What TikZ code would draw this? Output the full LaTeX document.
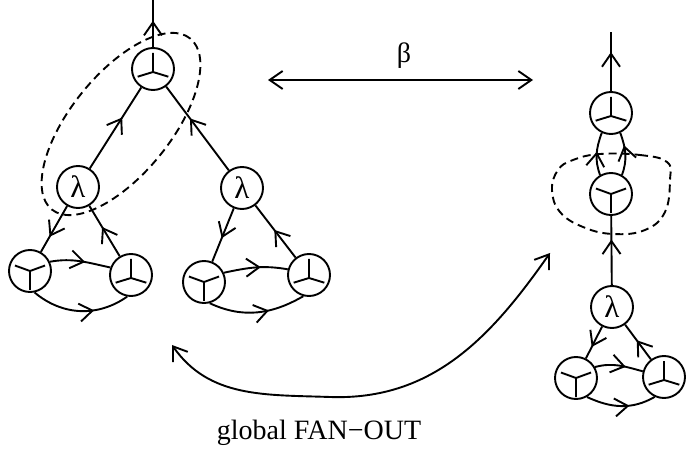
\documentclass[tikz,border=0pt]{standalone}
\usepackage{fontspec}
\setmainfont{Liberation Serif}
\usetikzlibrary{arrows.meta,decorations.markings}
\tikzset{
  >={Straight Barb[length=13pt,width=18pt]},
  nd/.style={circle, draw, line width=1.9pt, minimum size=42pt, inner sep=0pt, font=\fontsize{31}{31}\selectfont},
  fin/.style={nd, path picture={
    \draw[line width=1.9pt] ([yshift=-3pt]path picture bounding box.center) -- ++(90:19pt)
      ([yshift=-3pt]path picture bounding box.center) -- ++(197:16pt)
      ([yshift=-3pt]path picture bounding box.center) -- ++(343:16pt);}},
  fout/.style={nd, path picture={
    \draw[line width=1.9pt] (path picture bounding box.center) -- ++(160:16pt)
      (path picture bounding box.center) -- ++(20:16pt)
      (path picture bounding box.center) -- ++(270:19pt);}},
  marr/.style={postaction={decorate}, decoration={markings, mark=at position #1 with {\arrow{>}}}},
  dsh/.style={dash pattern=on 8pt off 5pt},
  lbl/.style={font=\fontsize{28}{28}\selectfont, inner sep=0pt}
}
\begin{document}
\begin{tikzpicture}[x=1pt,y=1pt,line width=1.9pt]
\useasboundingbox (0,0) rectangle (686,-457);
% left graph
\node[fin] (T1) at (153,-69) {};
\node[nd] (L1) at (78,-187) {λ};
\node[nd] (L2) at (242,-188) {λ};
\node[fout] (A1) at (30,-271) {};
\node[fin] (A2) at (131,-275) {};
\node[fout] (B1) at (204,-282) {};
\node[fin] (B2) at (309,-275) {};
\coordinate (Ttop) at (153,0);
\draw[marr=0.56] (T1) -- (Ttop);
\draw[marr=0.63] (L1) -- (T1);
\draw[marr=0.62] (L2) -- (T1);
\draw[marr=0.67] (L1) -- (A1);
\draw[marr=0.58] (A2) -- (L1);
\draw[marr=0.58] (A1.25) to[out=10,in=168] (A2.160);
\draw[marr=0.64] (A1.-78) to[out=-40,in=-145] (A2.-100);
\draw[marr=0.56] (L2) -- (B1);
\draw[marr=0.53] (B2) -- (L2);
\draw[marr=0.58] (B1.25) to[out=12,in=170] (B2.165);
\draw[marr=0.62] (B1.-75) to[out=-25,in=-150] (B2.-105);
\draw[dsh, rotate around={51:(121,-124)}] (121,-124) ellipse [x radius=110, y radius=50];
% right graph
\node[fin] (R1) at (611,-113) {};
\node[fout] (R2) at (611,-194) {};
\node[nd] (R3) at (612,-307) {λ};
\node[fout] (R4) at (576,-378) {};
\node[fin] (R5) at (664,-377) {};
\coordinate (Rtop) at (611,-32);
\draw[marr=0.66] (R1) -- (Rtop);
\draw[marr=0.55] (R2.120) to[out=110,in=-110] (R1.-115);
\draw[marr=0.7] (R2.60) to[out=70,in=-70] (R1.-65);
\draw[marr=0.66] (R3) -- (R2);
\draw[marr=0.64] (R3) -- (R4);
\draw[marr=0.55] (R5) -- (R3);
\draw[marr=0.64] (R4.30) to[out=15,in=165] (R5.165);
\draw[marr=0.62] (R4.-60) to[out=-25,in=-150] (R5.-115);
\draw[dsh] plot[smooth cycle, tension=0.7] coordinates {(600,-154) (640,-155) (667,-162) (670,-180) (665,-212) (645,-230) (613,-234) (583,-227) (560,-212) (552,-190) (558,-170) (573,-160)};
% beta arrow
\coordinate (bl) at (268,-80);
\coordinate (br) at (533,-80);
\draw[<->] (bl) -- (br);
\node[lbl] (beta) at (404,-56) {β};
% curved arrow
\coordinate (cl) at (172,-345);
\coordinate (cb) at (330,-397);
\coordinate (cr) at (550,-253);
\draw[<->] (cl) to[out=-55,in=178] (cb) to[out=-2,in=-125] (cr);
\node[lbl] (glob) at (319,-433) {global FAN−OUT};
\end{tikzpicture}
\end{document}
